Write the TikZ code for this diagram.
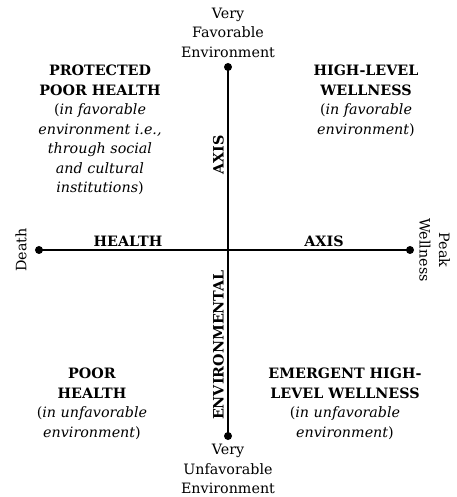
\documentclass[tikz,border=0pt]{standalone}
\usepackage{fontspec}
\setmainfont{DejaVu Serif}
\usetikzlibrary{positioning}

\begin{document}
\begin{tikzpicture}[
    x=1pt, y=1pt, font=\fontsize{14.3}{19.5}\selectfont,
    dot/.style={circle, fill=black, inner sep=0pt, minimum size=8pt},
    pole/.style={align=center, inner sep=0pt},
    axlbl/.style={font=\fontsize{14.3}{19.5}\selectfont\bfseries, inner sep=1pt},
    quad/.style={align=center, inner sep=0pt, anchor=north},
    axline/.style={line width=2.6pt}
]
\useasboundingbox (-228,-247) rectangle (228,250);
% end points of the two axes
\node[dot] (favdot) at (0,183) {};
\node[dot] (unfavdot) at (0,-186) {};
\node[dot] (deathdot) at (-189,0) {};
\node[dot] (peakdot) at (182,0) {};
\foreach \a/\b in {favdot/unfavdot, deathdot/peakdot}{\draw[axline] (\a.center)--(\b.center);}
\node[pole, above=5pt of favdot] (fav) {Very\\Favorable\\Environment};
\node[pole, below=4pt of unfavdot] (unfav) {Very\\Unfavorable\\Environment};
\node[pole, rotate=90, left=8pt of deathdot, anchor=south] (death) {Death};
\node[pole, rotate=-90, right=5pt of peakdot, anchor=south] (peak) {Peak\\Wellness};
% axis names
\node[axlbl, anchor=south] (health) at (-100,2) {HEALTH};
\node[axlbl, anchor=south] (haxis) at (96,2) {AXIS};
\node[axlbl, rotate=90, anchor=south] (vaxis) at (-3,95) {AXIS};
\node[axlbl, rotate=90, anchor=south] (env) at (-3,-95) {ENVIRONMENTAL};
% quadrants
\node[quad] (protected) at (-128,185) {\textbf{PROTECTED}\\\textbf{POOR HEALTH}\\(\textit{in favorable}\\\textit{environment i.e.,}\\\textit{through social}\\\textit{and cultural}\\\textit{institutions})};
\node[quad] (highlevel) at (138,185) {\textbf{HIGH-LEVEL}\\\textbf{WELLNESS}\\(\textit{in favorable}\\\textit{environment})};
\node[quad] (poor) at (-136,-118) {\textbf{POOR}\\\textbf{HEALTH}\\(\textit{in unfavorable}\\\textit{environment})};
\node[quad] (emergent) at (117,-118) {\textbf{EMERGENT HIGH-}\\\textbf{LEVEL WELLNESS}\\(\textit{in unfavorable}\\\textit{environment})};
\end{tikzpicture}
\end{document}
